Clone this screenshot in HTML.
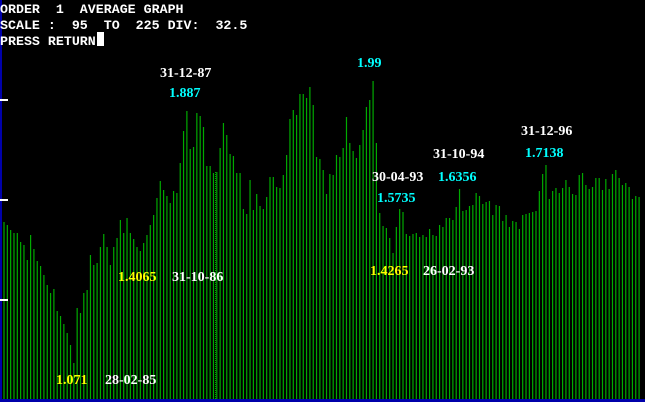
<!DOCTYPE html>
<html><head><meta charset="utf-8"><style>
html,body{margin:0;padding:0;background:#000;}
svg{display:block}
.h{font-family:"Liberation Mono",monospace;font-size:13.3px;fill:#fff;font-weight:bold;white-space:pre}
.l{font-family:"Liberation Serif",serif;font-size:14px;font-weight:bold}
</style></head><body>
<svg id="s" width="645" height="402" viewBox="0 0 645 402" xmlns="http://www.w3.org/2000/svg" xml:space="preserve">
<rect width="645" height="402" fill="#000"/>
<g id="bars" stroke="#00aa00" stroke-width="1.2"></g>
<line x1="215.5" y1="172" x2="215.5" y2="400" stroke="#00aa00" stroke-dasharray="1,1"/>
<line x1="429.5" y1="229" x2="429.5" y2="400" stroke="#00aa00" stroke-dasharray="1,1"/>
<rect x="0" y="0" width="2" height="402" fill="#0000aa"/>
<rect x="0" y="399" width="645" height="3" fill="#0000aa"/>
<rect x="0" y="99" width="8" height="2" fill="#fff"/>
<rect x="0" y="199" width="8" height="2" fill="#fff"/>
<rect x="0" y="299" width="8" height="2" fill="#fff"/>
<text class="h" x="0" y="13">ORDER  1  AVERAGE GRAPH</text>
<text class="h" x="0" y="29">SCALE :  95  TO  225 DIV:  32.5</text>
<text class="h" x="0" y="45">PRESS RETURN</text>
<rect x="97" y="32" width="7" height="14" fill="#fff"/>
<g class="l">
<text x="160" y="77" fill="#fff">31-12-87</text>
<text x="169" y="97" fill="#00ffff">1.887</text>
<text x="357" y="67" fill="#00ffff">1.99</text>
<text x="433" y="158" fill="#fff">31-10-94</text>
<text x="438" y="181" fill="#00ffff">1.6356</text>
<text x="372" y="181" fill="#fff">30-04-93</text>
<text x="377" y="202" fill="#00ffff">1.5735</text>
<text x="370" y="275" fill="#ffff00">1.4265</text>
<text x="423" y="275" fill="#fff">26-02-93</text>
<text x="521" y="135" fill="#fff">31-12-96</text>
<text x="525" y="157" fill="#00ffff">1.7138</text>
<text x="118" y="281" fill="#ffff00">1.4065</text>
<text x="172" y="281" fill="#fff">31-10-86</text>
<text x="56" y="384" fill="#ffff00">1.071</text>
<text x="105" y="384" fill="#fff">28-02-85</text>
</g>
</svg>
<script>
var t=[222,225,230,233,233,242,245,260,235,249,261,266,275,285,293,289,311,316,324,333,345,363,308,313,293,290,255,265,263,247,234,247,265,247,238,220,233,218,233,239,247,251,243,235,225,215,
198,181,190,196,203,191,193,163,131,111,149,147,113,116,127,166,166,173,172,148,123,135,154,156,173,173,209,214,180,210,194,206,209,197,177,177,187,188,175,155,119,110,115,94,94,98,87,105,157,159,
170,194,174,175,155,157,148,117,143,151,158,145,130,107,100,81,143,213,226,228,238,253,227,209,212,234,236,234,233,237,235,237,229,235,236,225,227,218,218,220,207,189,211,210,206,205,193,196,204,
202,201,215,205,206,221,215,227,221,222,229,215,214,213,212,211,191,174,165,199,191,188,193,188,180,187,194,195,175,173,185,189,187,178,178,190,179,189,174,170,178,185,183,187,199,196,197];
var g=document.getElementById('bars'),ns='http://www.w3.org/2000/svg',d='';
for(var i=0;i<t.length;i++){var x=(4+i*3.325).toFixed(2);d+='M'+x+' 400V'+t[i];}
var p=document.createElementNS(ns,'path');p.setAttribute('d',d);g.appendChild(p);
</script>
</body></html>
